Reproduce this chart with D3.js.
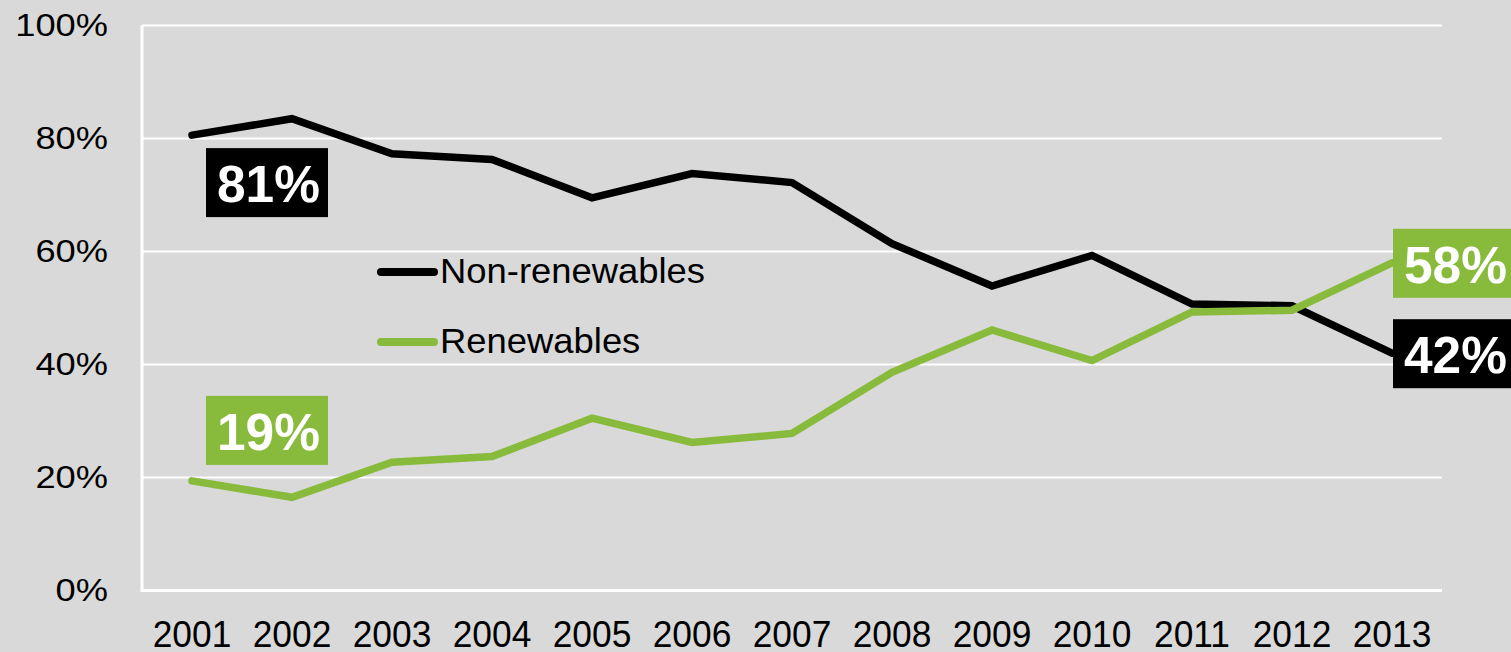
<!DOCTYPE html>
<html>
<head>
<meta charset="utf-8">
<script src="https://cdn.jsdelivr.net/npm/d3@7"></script>
<style>
  html, body { margin: 0; padding: 0; background: #D9D9D9; }
  svg { display: block; }
  text { font-family: Arial, "Liberation Sans", sans-serif; }
</style>
</head>
<body>
<svg id="chart" width="1511" height="652"></svg>
<script>
// ---- data ----
const years = ["2001","2002","2003","2004","2005","2006","2007","2008","2009","2010","2011","2012","2013"];
const nonRenewables = [80.6, 83.5, 77.3, 76.3, 69.5, 73.8, 72.2, 61.4, 53.9, 59.3, 50.7, 50.4, 42.0];
const renewables    = [19.4, 16.5, 22.7, 23.7, 30.5, 26.2, 27.8, 38.6, 46.1, 40.7, 49.3, 49.6, 58.0];
const yTicks = [0, 20, 40, 60, 80, 100];
const seriesNames = ["Non-renewables", "Renewables"];
const seriesColors = ["#000000", "#88BB3B"];
const startLabels = ["81%", "19%"];
const endLabels = ["42%", "58%"];

(function () {
// ---- layout ----
const svg = d3.select("#chart");
const pLeft = 142, pRight = 1442, pTop = 25.5, pBottom = 590.5;

const x = d3.scaleBand().domain(years).range([pLeft, pRight]).padding(0);
const xc = d => x(d) + x.bandwidth() / 2;
const y = d3.scaleLinear().domain([0, 100]).range([pBottom, pTop]);

// gridlines
svg.append("g").selectAll("line")
  .data(yTicks.filter(t => t > 0))
  .join("line")
  .attr("x1", pLeft).attr("x2", pRight)
  .attr("y1", d => y(d)).attr("y2", d => y(d))
  .attr("stroke", "#FFFFFF").attr("stroke-width", 2);

// axis lines
svg.append("line").attr("x1", pLeft).attr("x2", pLeft).attr("y1", pTop).attr("y2", pBottom + 1.5)
  .attr("stroke", "#FFFFFF").attr("stroke-width", 3);
svg.append("line").attr("x1", pLeft).attr("x2", pRight).attr("y1", pBottom).attr("y2", pBottom)
  .attr("stroke", "#FFFFFF").attr("stroke-width", 3);

// y axis labels
const yAxis = d3.axisLeft(y).tickValues(yTicks).tickFormat(d => d + "%").tickSize(0).tickPadding(0);
const yg = svg.append("g").attr("transform", `translate(${pLeft - 34},0)`).call(yAxis);
yg.select(".domain").remove();
yg.selectAll("text")
  .attr("font-size", 31).attr("fill", "#000").attr("dy", "0.32em")
  .attr("font-family", "Arial, 'Liberation Sans', sans-serif")
  .each(function() {
    const w = this.getComputedTextLength();
    d3.select(this).attr("textLength", w * 1.17).attr("lengthAdjust", "spacingAndGlyphs");
  });

// x axis labels
const xAxis = d3.axisBottom(x).tickSize(0).tickPadding(0);
const xg = svg.append("g").attr("transform", `translate(0,${pBottom})`).call(xAxis);
xg.select(".domain").remove();
xg.selectAll("text")
  .attr("font-size", 37).attr("fill", "#000").attr("dy", null).attr("y", 56)
  .attr("font-family", "Arial, 'Liberation Sans', sans-serif")
  .each(function() {
    const w = this.getComputedTextLength();
    d3.select(this).attr("textLength", w * 0.955).attr("lengthAdjust", "spacingAndGlyphs");
  });

// lines
const line = d3.line().x((d, i) => xc(years[i])).y(d => y(d));
[nonRenewables, renewables].forEach((s, i) => {
  svg.append("path")
    .datum(s)
    .attr("d", line)
    .attr("fill", "none")
    .attr("stroke", seriesColors[i])
    .attr("stroke-width", 7.5)
    .attr("stroke-linecap", "round")
    .attr("stroke-linejoin", "miter");
});

// legend
const legend = svg.append("g");
seriesNames.forEach((name, i) => {
  const ly = 272 + i * 70;
  legend.append("line")
    .attr("x1", 381).attr("x2", 434).attr("y1", ly).attr("y2", ly)
    .attr("stroke", seriesColors[i]).attr("stroke-width", 8).attr("stroke-linecap", "round");
  legend.append("text")
    .attr("x", 440).attr("y", ly + 10.5)
    .attr("font-size", 35).attr("fill", "#000")
    .text(name)
    .each(function() {
      const w = this.getComputedTextLength();
      d3.select(this).attr("textLength", w * 1.04).attr("lengthAdjust", "spacingAndGlyphs");
    });
});

// value labels
const boxW = 122, boxH = 69;
function valueLabel(bx, by, txt, color) {
  const g = svg.append("g");
  g.append("rect").attr("x", bx).attr("y", by).attr("width", boxW).attr("height", boxH).attr("fill", color);
  g.append("text")
    .attr("x", bx + 11).attr("y", by + 54)
    .attr("font-size", 52).attr("font-weight", "bold").attr("fill", "#FFFFFF")
    .text(txt)
    .attr("textLength", 103).attr("lengthAdjust", "spacingAndGlyphs");
}
const first = years[0], last = years[years.length - 1];
// start labels
valueLabel(xc(first) + 14, y(nonRenewables[0]) + 13, startLabels[0], seriesColors[0]);
valueLabel(xc(first) + 14, y(renewables[0]) - 85, startLabels[1], seriesColors[1]);
// end labels
valueLabel(xc(last) + 1, y(nonRenewables[nonRenewables.length - 1]) - 34, endLabels[0], seriesColors[0]);
valueLabel(xc(last) + 1, y(renewables[renewables.length - 1]) - 34, endLabels[1], seriesColors[1]);
})();
</script>
</body>
</html>
